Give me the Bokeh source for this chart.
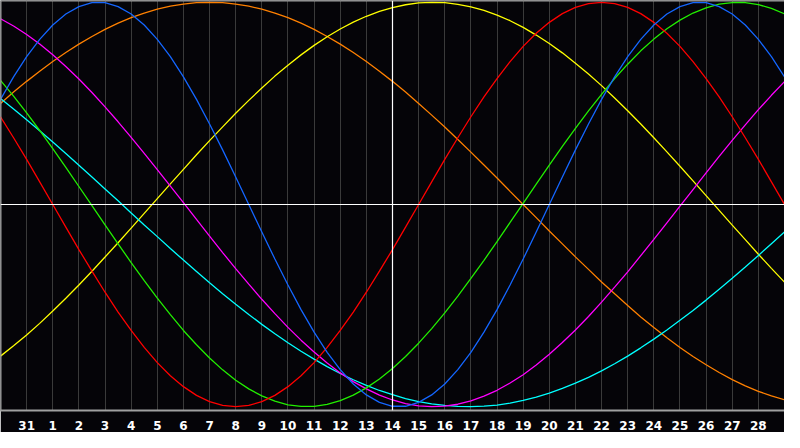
from bokeh.plotting import figure
from bokeh.models import Range1d, Span, FixedTicker
from bokeh.embed import file_html
from bokeh.resources import INLINE

# readings taken every half day across the window (0 = left edge, 30 = right edge)
t = [i * 0.5 for i in range(61)]
tick_pos = list(range(1, 30))
tick_labels = ["31"] + [str(d) for d in range(1, 29)]

# values in percent
blue = [52.0, 63.1, 73.1, 81.7, 88.8, 94.2, 97.9, 99.8, 99.8, 97.9, 94.2, 88.8, 81.7, 73.1,
        63.1, 52.0, 39.8, 27.0, 13.6, 0.0, -13.6, -27.0, -39.8, -52.0, -63.1, -73.1, -81.7,
        -88.8, -94.2, -97.9, -99.8, -99.8, -97.9, -94.2, -88.8, -81.7, -73.1, -63.1, -52.0,
        -39.8, -27.0, -13.6, 0.0, 13.6, 27.0, 39.8, 52.0, 63.1, 73.1, 81.7, 88.8, 94.2, 97.9,
        99.8, 99.8, 97.9, 94.2, 88.8, 81.7, 73.1, 63.1]
red = [43.4, 33.0, 22.3, 11.2, 0.0, -11.2, -22.3, -33.0, -43.4, -53.2, -62.3, -70.7, -78.2,
       -84.7, -90.1, -94.4, -97.5, -99.4, -100.0, -99.4, -97.5, -94.4, -90.1, -84.7, -78.2,
       -70.7, -62.3, -53.2, -43.4, -33.0, -22.3, -11.2, 0.0, 11.2, 22.3, 33.0, 43.4, 53.2,
       62.3, 70.7, 78.2, 84.7, 90.1, 94.4, 97.5, 99.4, 100.0, 99.4, 97.5, 94.4, 90.1, 84.7,
       78.2, 70.7, 62.3, 53.2, 43.4, 33.0, 22.3, 11.2, 0.0]
green = [61.4, 53.6, 45.3, 36.6, 27.6, 18.4, 8.9, -0.6, -10.1, -19.5, -28.7, -37.7, -46.3,
         -54.5, -62.3, -69.4, -75.9, -81.8, -86.9, -91.2, -94.7, -97.3, -99.1, -99.9, -99.9,
         -98.9, -97.0, -94.3, -90.7, -86.3, -81.1, -75.2, -68.6, -61.4, -53.6, -45.3, -36.6,
         -27.6, -18.4, -8.9, 0.6, 10.1, 19.5, 28.7, 37.7, 46.3, 54.5, 62.3, 69.4, 76.0, 81.8,
         86.9, 91.2, 94.7, 97.3, 99.1, 99.9, 99.9, 98.9, 97.0, 94.3]
magenta = [91.9, 88.3, 84.1, 79.4, 74.1, 68.3, 62.1, 55.4, 48.3, 40.9, 33.2, 25.3, 17.2, 9.1,
           0.9, -7.4, -15.6, -23.8, -31.7, -39.4, -46.9, -54.0, -60.8, -67.1, -73.0, -78.4,
           -83.3, -87.6, -91.2, -94.3, -96.7, -98.5, -99.6, -100.0, -99.7, -98.8, -97.1,
           -94.8, -91.9, -88.3, -84.2, -79.4, -74.1, -68.3, -62.1, -55.4, -48.3, -40.9, -33.3,
           -25.3, -17.3, -9.1, -0.8, 7.4, 15.6, 23.8, 31.7, 39.4, 46.9, 54.0, 60.8]
yellow = [-75.0, -69.9, -64.5, -58.8, -52.7, -46.4, -39.8, -33.0, -26.0, -18.9, -11.7, -4.4,
          2.9, 10.2, 17.4, 24.6, 31.6, 38.4, 45.1, 51.5, 57.6, 63.5, 68.9, 74.0, 78.7, 83.0,
          86.8, 90.2, 93.1, 95.5, 97.4, 98.8, 99.7, 100.0, 99.8, 99.0, 97.8, 96.0, 93.7, 90.9,
          87.6, 83.8, 79.6, 75.0, 69.9, 64.5, 58.8, 52.7, 46.4, 39.8, 33.0, 26.0, 18.9, 11.7,
          4.4, -2.9, -10.2, -17.4, -24.6, -31.6, -38.4]
orange = [50.0, 55.6, 60.9, 65.9, 70.7, 75.2, 79.3, 83.1, 86.6, 89.7, 92.4, 94.7, 96.6, 98.1,
          99.1, 99.8, 100.0, 99.8, 99.1, 98.1, 96.6, 94.7, 92.4, 89.7, 86.6, 83.1, 79.3, 75.2,
          70.7, 65.9, 60.9, 55.6, 50.0, 44.2, 38.3, 32.1, 25.9, 19.5, 13.1, 6.5, 0.0, -6.5,
          -13.1, -19.5, -25.9, -32.1, -38.3, -44.2, -50.0, -55.6, -60.9, -65.9, -70.7, -75.2,
          -79.3, -83.1, -86.6, -89.7, -92.4, -94.7, -96.6]
cyan = [52.4, 47.2, 41.9, 36.5, 30.9, 25.2, 19.4, 13.6, 7.7, 1.8, -4.2, -10.1, -15.9, -21.8,
        -27.5, -33.1, -38.7, -44.1, -49.3, -54.4, -59.3, -63.9, -68.4, -72.6, -76.5, -80.2,
        -83.6, -86.7, -89.5, -92.0, -94.1, -96.0, -97.5, -98.6, -99.4, -99.9, -100.0, -99.7,
        -99.2, -98.2, -96.9, -95.3, -93.3, -91.0, -88.4, -85.5, -82.3, -78.8, -75.0, -70.9,
        -66.6, -62.1, -57.3, -52.4, -47.3, -41.9, -36.5, -30.9, -25.2, -19.4, -13.6]

series = [
    (orange, "#ff8000"),
    (yellow, "#ffff00"),
    (cyan, "#00ffff"),
    (magenta, "#ff00ff"),
    (green, "#22ee00"),
    (red, "#ff0000"),
    (blue, "#1466ff"),
]

bg = "#050408"
p = figure(width=784, height=432, x_range=Range1d(0, 30), y_range=Range1d(-101.9, 100.9),
           output_backend="svg", toolbar_location=None, min_border=0,
           y_axis_location=None,
           background_fill_color=bg, border_fill_color=bg)
p.outline_line_color = None
p.ygrid.visible = False
p.xaxis.ticker = FixedTicker(ticks=tick_pos)
p.xaxis.major_label_overrides = {int(i): lab for i, lab in zip(tick_pos, tick_labels)}
p.xaxis.major_tick_line_color = None
p.xaxis.minor_tick_line_color = None
p.xaxis.axis_line_color = "#a0a0a0"
p.xaxis.axis_line_width = 2
p.xaxis.major_label_text_color = "white"
p.xaxis.major_label_text_font = "DejaVu Sans"
p.xaxis.major_label_text_font_style = "bold"
p.xaxis.major_label_text_font_size = "12px"
p.xaxis.major_label_standoff = 4
p.xgrid.grid_line_color = "#3a3a3a"
p.xgrid.grid_line_width = 1

p.add_layout(Span(location=0, dimension="height", line_color="#a0a0a0", line_width=2))
p.add_layout(Span(location=100.9, dimension="width", line_color="#a0a0a0", line_width=2))
p.add_layout(Span(location=15, dimension="height", line_color="white", line_width=1.2))
p.add_layout(Span(location=0, dimension="width", line_color="white", line_width=1.2))

for vals, col in series:
    p.line(t, vals, line_color=col, line_width=1.3)

open("out.html", "w").write(file_html(p, INLINE))
